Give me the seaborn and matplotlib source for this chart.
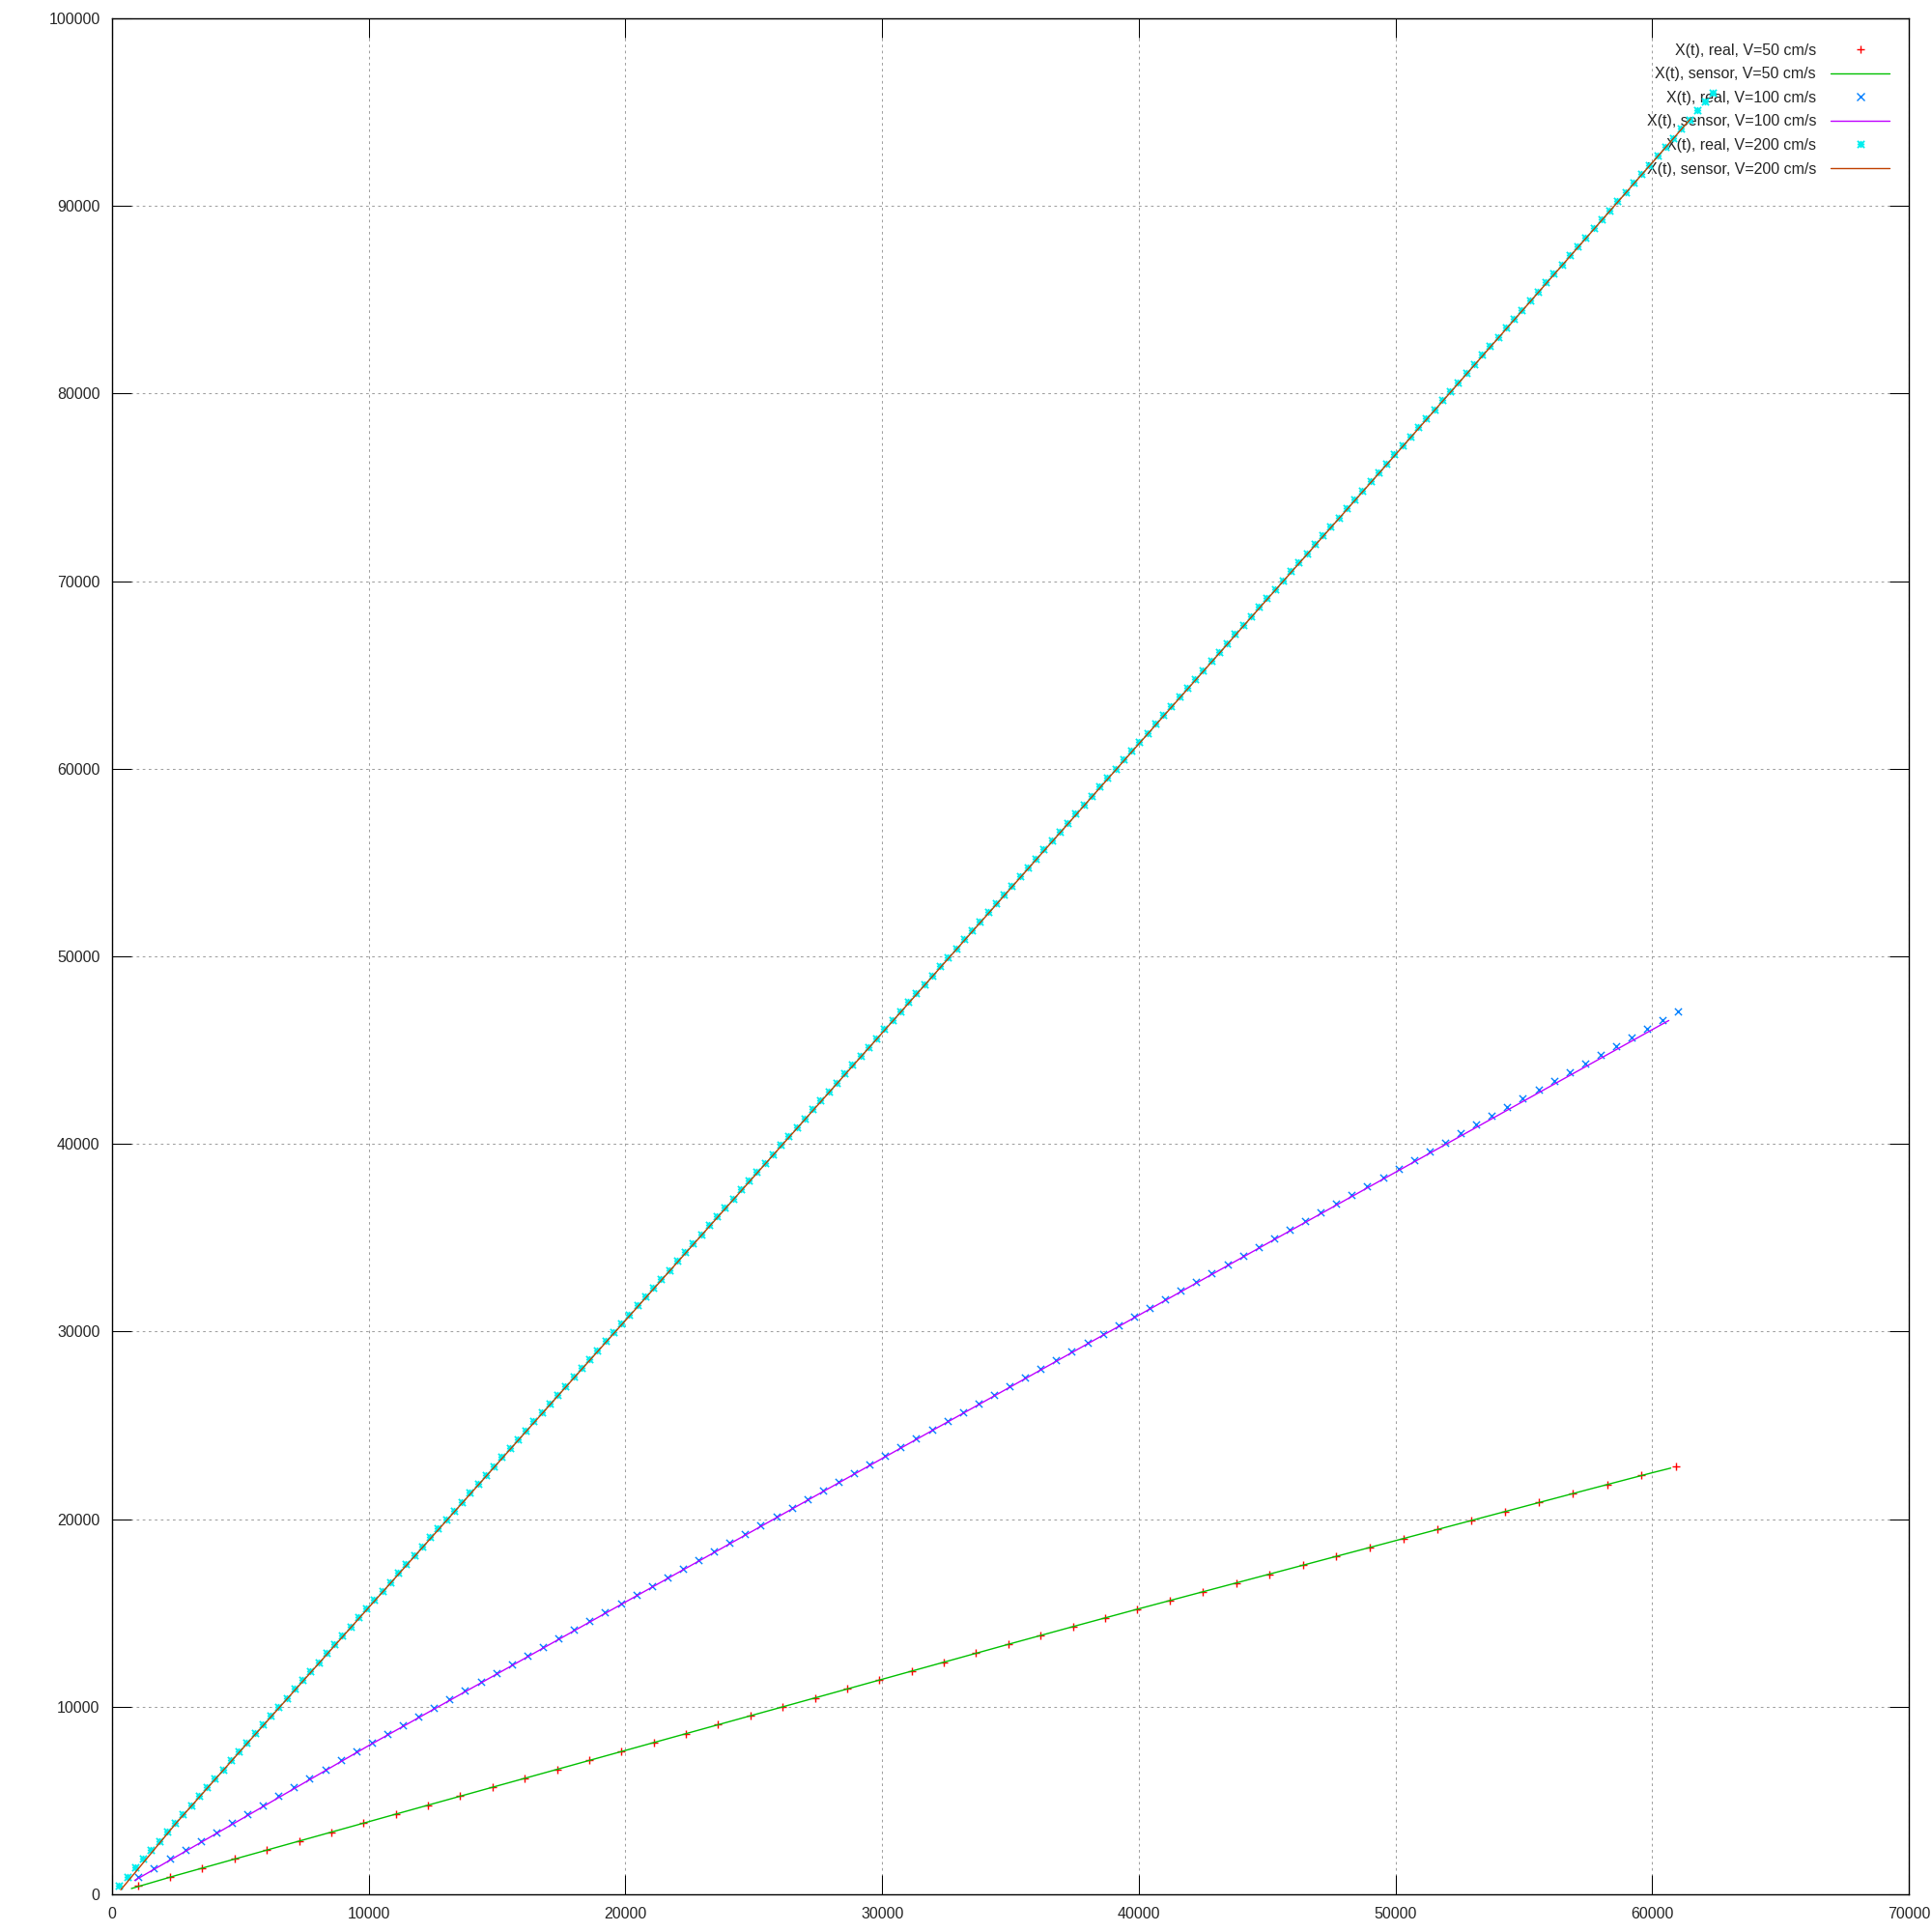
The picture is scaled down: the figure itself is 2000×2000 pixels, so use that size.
import matplotlib
matplotlib.use("Agg")
import matplotlib.pyplot as plt
from matplotlib.path import Path
from matplotlib.lines import Line2D
import pandas as pd
import seaborn as sns

# ---------------- data ----------------
# V = 50 cm/s : real samples
t_real_50 = [1006, 2262, 3518, 4774, 6030, 7286, 8542, 9798, 11054, 12310,
             13566, 14822, 16078, 17334, 18590, 19846, 21102, 22358, 23614, 24870,
             26126, 27382, 28638, 29894, 31150, 32406, 33662, 34918, 36174, 37430,
             38686, 39942, 41222, 42506, 43795, 45088, 46385, 47687, 48993, 50303,
             51617, 52936, 54259, 55586, 56918, 58254, 59594, 60939]
x_real_50 = [443, 922, 1401, 1880, 2359, 2838, 3316, 3795, 4274, 4753,
             5232, 5708, 6184, 6661, 7137, 7613, 8089, 8565, 9042, 9518,
             9994, 10470, 10946, 11423, 11899, 12375, 12851, 13327, 13804, 14269,
             14734, 15200, 15665, 16131, 16599, 17069, 17540, 18013, 18487, 18963,
             19440, 19919, 20400, 20882, 21366, 21845, 22326, 22809]
# V = 50 cm/s : sensor
t_sensor_50 = [754, 2500, 5000, 7500, 10000, 12500, 15000, 17500, 20000, 22500,
               25000, 27500, 30000, 32500, 35000, 37500, 40000, 42500, 45000, 47500,
               50000, 52500, 55000, 57500, 60000, 60725]
x_sensor_50 = [309, 1010, 1966, 2919, 3872, 4826, 5776, 6723, 7671, 8619,
               9567, 10514, 11462, 12410, 13358, 14295, 15221, 16129, 17037, 17945,
               18853, 19761, 20669, 21575, 22472, 22721]

# V = 100 cm/s : real samples
t_real_100 = [1029, 1635, 2241, 2847, 3453, 4059, 4665, 5271, 5877, 6483,
              7089, 7695, 8301, 8907, 9513, 10119, 10725, 11331, 11937, 12543,
              13149, 13755, 14361, 14967, 15573, 16179, 16785, 17391, 17997, 18603,
              19209, 19815, 20421, 21027, 21633, 22239, 22845, 23451, 24057, 24663,
              25269, 25875, 26481, 27087, 27693, 28299, 28905, 29511, 30117, 30723,
              31329, 31935, 32541, 33147, 33753, 34359, 34965, 35571, 36177, 36783,
              37389, 37995, 38601, 39207, 39813, 40419, 41025, 41631, 42237, 42843,
              43449, 44055, 44661, 45267, 45873, 46479, 47085, 47691, 48297, 48903,
              49509, 50115, 50721, 51327, 51933, 52539, 53145, 53751, 54357, 54963,
              55569, 56175, 56781, 57387, 57993, 58599, 59205, 59811, 60417, 61023]
x_real_100 = [927, 1405, 1883, 2361, 2840, 3318, 3796, 4274, 4752, 5230,
              5708, 6186, 6665, 7143, 7621, 8099, 8563, 9026, 9490, 9953,
              10417, 10881, 11344, 11808, 12271, 12735, 13199, 13662, 14126, 14589,
              15053, 15517, 15980, 16444, 16907, 17371, 17835, 18298, 18762, 19225,
              19689, 20153, 20616, 21080, 21543, 22007, 22471, 22934, 23398, 23861,
              24325, 24789, 25252, 25716, 26179, 26643, 27107, 27570, 28034, 28497,
              28961, 29425, 29888, 30352, 30815, 31279, 31743, 32206, 32670, 33133,
              33597, 34061, 34524, 34988, 35451, 35915, 36379, 36842, 37306, 37769,
              38233, 38697, 39160, 39624, 40087, 40551, 41015, 41478, 41942, 42405,
              42869, 43333, 43796, 44260, 44723, 45187, 45651, 46114, 46578, 47041]
# V = 100 cm/s : sensor
t_sensor_100 = [880, 2500, 5000, 7500, 10000, 12500, 15000, 17500, 20000, 22500,
                25000, 27500, 30000, 32500, 35000, 37500, 40000, 42500, 45000, 47500,
                50000, 52500, 55000, 57500, 60000, 60650]
x_sensor_100 = [740, 2010, 3980, 5955, 7930, 9840, 11750, 13665, 15580, 17490,
                19400, 21315, 23230, 25140, 27050, 28960, 30870, 32780, 34690, 36590,
                38490, 40390, 42290, 44190, 46090, 46580]

# V = 200 cm/s : real samples
t_real_200 = [275, 586, 896, 1207, 1517, 1828, 2138, 2449, 2759, 3070,
              3380, 3691, 4001, 4312, 4622, 4933, 5243, 5554, 5864, 6175,
              6485, 6796, 7106, 7417, 7727, 8038, 8348, 8659, 8969, 9280,
              9590, 9901, 10211, 10522, 10832, 11143, 11453, 11764, 12074, 12385,
              12695, 13006, 13316, 13627, 13937, 14248, 14558, 14869, 15179, 15490,
              15800, 16111, 16421, 16732, 17042, 17353, 17663, 17974, 18284, 18595,
              18905, 19216, 19526, 19837, 20147, 20458, 20768, 21079, 21389, 21700,
              22010, 22321, 22631, 22942, 23252, 23563, 23873, 24184, 24494, 24805,
              25115, 25426, 25736, 26047, 26357, 26668, 26978, 27289, 27599, 27910,
              28220, 28531, 28841, 29152, 29462, 29773, 30083, 30394, 30704, 31015,
              31325, 31636, 31946, 32257, 32567, 32878, 33188, 33499, 33809, 34120,
              34430, 34741, 35051, 35362, 35672, 35983, 36293, 36604, 36914, 37225,
              37535, 37846, 38156, 38467, 38777, 39088, 39398, 39709, 40019, 40330,
              40640, 40951, 41261, 41572, 41882, 42193, 42503, 42814, 43124, 43435,
              43745, 44056, 44366, 44677, 44987, 45298, 45608, 45919, 46229, 46540,
              46850, 47161, 47471, 47782, 48092, 48403, 48713, 49024, 49334, 49645,
              49955, 50266, 50576, 50887, 51197, 51508, 51818, 52129, 52439, 52750,
              53060, 53371, 53681, 53992, 54302, 54613, 54923, 55234, 55544, 55855,
              56165, 56476, 56786, 57097, 57407, 57718, 58028, 58339, 58649, 58960,
              59270, 59581, 59891, 60202, 60512, 60823, 61133, 61444, 61754, 62065,
              62375]
x_real_200 = [463, 940, 1418, 1895, 2372, 2849, 3327, 3804, 4281, 4758,
              5236, 5713, 6190, 6667, 7145, 7622, 8099, 8574, 9050, 9525,
              10000, 10476, 10951, 11426, 11901, 12377, 12852, 13327, 13803, 14278,
              14753, 15229, 15704, 16179, 16654, 17130, 17605, 18080, 18556, 19031,
              19506, 19982, 20457, 20932, 21407, 21883, 22358, 22833, 23309, 23784,
              24259, 24735, 25210, 25685, 26160, 26636, 27111, 27586, 28062, 28537,
              29012, 29488, 29963, 30438, 30913, 31389, 31864, 32339, 32815, 33290,
              33765, 34241, 34716, 35191, 35666, 36142, 36617, 37092, 37568, 38043,
              38518, 38994, 39469, 39944, 40419, 40895, 41370, 41845, 42321, 42796,
              43271, 43747, 44222, 44697, 45172, 45648, 46123, 46602, 47080, 47559,
              48037, 48516, 48995, 49473, 49952, 50430, 50909, 51388, 51866, 52345,
              52823, 53302, 53781, 54259, 54738, 55216, 55695, 56174, 56652, 57131,
              57609, 58088, 58567, 59045, 59524, 60002, 60481, 60960, 61438, 61917,
              62395, 62874, 63353, 63831, 64310, 64788, 65267, 65746, 66224, 66703,
              67181, 67660, 68139, 68617, 69096, 69574, 70053, 70532, 71010, 71489,
              71967, 72446, 72925, 73403, 73882, 74360, 74839, 75318, 75796, 76275,
              76753, 77235, 77718, 78200, 78683, 79165, 79647, 80130, 80612, 81095,
              81577, 82059, 82542, 83024, 83507, 83989, 84471, 84954, 85436, 85919,
              86401, 86883, 87366, 87848, 88331, 88813, 89295, 89778, 90260, 90743,
              91225, 91707, 92190, 92672, 93155, 93637, 94119, 94602, 95084, 95567,
              96049]
# V = 200 cm/s : sensor
t_sensor_200 = [340, 2500, 5000, 7500, 10000, 12500, 15000, 17500, 20000, 22500,
                25000, 27500, 30000, 32500, 35000, 37500, 40000, 42500, 45000, 47500,
                50000, 52500, 55000, 57500, 60000, 61500]
x_sensor_200 = [240, 3800, 7640, 11460, 15290, 19110, 22940, 26770, 30590, 34420,
                38250, 42080, 45910, 49760, 53610, 57460, 61320, 65170, 69030, 72880,
                76740, 80620, 84510, 88400, 92300, 94650]

labels = ["X(t), real, V=50 cm/s", "X(t), sensor, V=50 cm/s",
          "X(t), real, V=100 cm/s", "X(t), sensor, V=100 cm/s",
          "X(t), real, V=200 cm/s", "X(t), sensor, V=200 cm/s"]
x_ticks = [0, 10000, 20000, 30000, 40000, 50000, 60000, 70000]
y_ticks = [0, 10000, 20000, 30000, 40000, 50000, 60000, 70000, 80000, 90000, 100000]

# ---------------- style ----------------
sns.set_style("white")
plt.rcParams["font.family"] = ["Liberation Sans", "DejaVu Sans"]
plt.rcParams["font.size"] = 11.5

C_RED, C_GREEN, C_BLUE = "#ff0000", "#00c000", "#0080ff"
C_MAG, C_CYAN, C_BROWN = "#c000ff", "#00eeee", "#c04000"

# gnuplot-like asterisk (plus + cross)
star = Path([(-0.5, 0), (0.5, 0), (0, -0.5), (0, 0.5),
             (-0.5, -0.5), (0.5, 0.5), (-0.5, 0.5), (0.5, -0.5)],
            [Path.MOVETO, Path.LINETO] * 4)

fig = plt.figure(figsize=(20, 20), dpi=100)
ax = fig.add_axes([0.058, 0.0195, 0.930, 0.971])

real = [(t_real_50, x_real_50, "+", C_RED, 1.0),
        (t_real_100, x_real_100, "x", C_BLUE, 1.0),
        (t_real_200, x_real_200, star, C_CYAN, 1.3)]
sens = [(t_sensor_50, x_sensor_50, C_GREEN),
        (t_sensor_100, x_sensor_100, C_MAG),
        (t_sensor_200, x_sensor_200, C_BROWN)]

MS = 5.2
for (tr, xr, mk, cr, lw), (ts, xs, cs) in zip(real, sens):
    dfr = pd.DataFrame({"t": tr, "x": xr})
    dfs = pd.DataFrame({"t": ts, "x": xs})
    sns.scatterplot(data=dfr, x="t", y="x", marker=mk, s=MS ** 2,
                    color=cr, edgecolor=cr, linewidth=lw, ax=ax,
                    legend=False, zorder=2)
    sns.lineplot(data=dfs, x="t", y="x", color=cs, linewidth=1.0,
                 sort=False, estimator=None, ax=ax, legend=False, zorder=2)

ax.set_xlim(0, 70000)
ax.set_ylim(0, 100000)
ax.set_xticks(x_ticks)
ax.set_yticks(y_ticks)
ax.set_xticklabels([str(v) for v in x_ticks])
ax.set_yticklabels([str(v) for v in y_ticks])
ax.set_xlabel("")
ax.set_ylabel("")

ax.grid(True, color="#a0a0a0", linewidth=0.75, linestyle=(0, (2.6, 3.4)))
ax.set_axisbelow(True)
for sp in ax.spines.values():
    sp.set_visible(True)
    sp.set_color("black")
    sp.set_linewidth(1.0)
ax.tick_params(axis="both", which="major", direction="in", length=14.4,
               width=0.75, color="black", labelsize=11.5, pad=9,
               top=True, right=True, bottom=True, left=True,
               labeltop=False, labelright=False)

# legend (gnuplot style: right-aligned text, sample on the right)
handles = [
    Line2D([], [], linestyle="none", marker="+", color=C_RED, markersize=MS, mew=1.0),
    Line2D([], [], color=C_GREEN, linewidth=1.0),
    Line2D([], [], linestyle="none", marker="x", color=C_BLUE, markersize=MS, mew=1.0),
    Line2D([], [], color=C_MAG, linewidth=1.0),
    Line2D([], [], linestyle="none", marker=star, color=C_CYAN, markersize=MS, mew=1.3),
    Line2D([], [], color=C_BROWN, linewidth=1.0),
]
leg = ax.legend(handles, labels, loc="upper right",
                bbox_to_anchor=(0.9892, 0.9868), frameon=False,
                markerfirst=False, handlelength=3.8, handletextpad=0.95,
                labelspacing=0.60, borderpad=0, borderaxespad=0,
                fontsize=11.5)
leg.set_zorder(1)

fig.savefig("out.png", dpi=100, facecolor="white")
